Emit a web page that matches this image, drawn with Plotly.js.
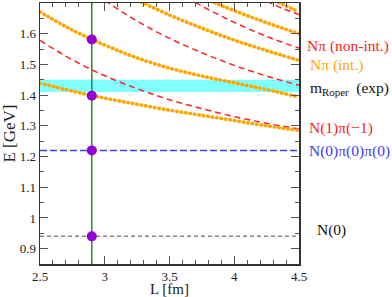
<!DOCTYPE html>
<html><head><meta charset="utf-8">
<script src="https://cdn.plot.ly/plotly-3.0.1.min.js"></script>
<style>
html,body{margin:0;padding:0;background:#fff}
#plot{width:392px;height:297px}
path.js-line[style*="rgb(255, 165, 0)"]{stroke-linecap:round !important}
</style>
</head><body><div id="plot"></div>
<script>
// Box size L [fm]
const L_grid = [2.5, 2.75, 3.0, 3.25, 3.5, 3.75, 4.0, 4.25, 4.5];
// non-interacting N pi levels (red dashed)
const freeN1 = [1.578, 1.515, 1.463, 1.421, 1.385, 1.356, 1.330, 1.308, 1.290];
const L_n2 = [3.0, 3.25, 3.5, 3.75, 4.0, 4.25, 4.5];
const freeN2 = [1.708, 1.641, 1.585, 1.538, 1.497, 1.462, 1.432];
const L_n3 = [3.5, 3.75, 4.0, 4.25, 4.5];
const freeN3 = [1.752, 1.690, 1.637, 1.591, 1.553];
const L_n4 = [4.25, 4.375, 4.5];
const freeN4 = [1.706, 1.682, 1.662];
// interacting N pi levels (orange dotted)
const intE1 = [1.439, 1.413, 1.390, 1.370, 1.351, 1.334, 1.317, 1.300, 1.285];
const intE2 = [1.671, 1.612, 1.563, 1.521, 1.488, 1.462, 1.440, 1.418, 1.394];
const L_i3 = [3.25, 3.5, 3.75, 4.0, 4.25, 4.5];
const intE3 = [1.710, 1.661, 1.618, 1.579, 1.545, 1.513];
const L_i4 = [3.75, 4.0, 4.25, 4.5];
const intE4 = [1.718, 1.675, 1.636, 1.600];
const L_i5 = [4.25, 4.375, 4.5];
const intE5 = [1.722, 1.696, 1.671];
// thresholds
const L_ends = [2.5, 4.5];
const eNpipi = 1.22;
const eN = 0.94;
const roperBand = [1.41, 1.45];
// lattice simulation
const L_sim = 2.9;
const latticeE = [0.94, 1.22, 1.398, 1.581];
const E_span = [0.85, 1.70];
// ticks
const xTickVals = [2.5, 3, 3.5, 4, 4.5];
const xTickText = ['2.5', '3', '3.5', '4', '4.5'];
const yTickVals = [0.9, 1.0, 1.1, 1.2, 1.3, 1.4, 1.5, 1.6];
const yTickText = ['0.9', '1', '1.1', '1.2', '1.3', '1.4', '1.5', '1.6'];

const RED = '#ff2222', ORANGE = '#ffa500', BLUE = '#3c3cff', GRAY = '#888888';

const redLine = {color: RED, width: 1.5, dash: '6px,4px', shape: 'spline'};
const orLine = {color: ORANGE, width: 3.6, dash: '0.5px,4px', shape: 'spline'};

const traces = [
  {x: L_grid, y: freeN1, mode: 'lines', line: redLine},
  {x: L_n2, y: freeN2, mode: 'lines', line: redLine},
  {x: L_n3, y: freeN3, mode: 'lines', line: redLine},
  {x: L_n4, y: freeN4, mode: 'lines', line: redLine},
  {x: L_ends, y: [eNpipi, eNpipi], mode: 'lines', line: {color: BLUE, width: 1.5, dash: '7px,3px'}},
  {x: L_ends, y: [eN, eN], mode: 'lines', line: {color: GRAY, width: 1.5, dash: '4px,3px'}},
  {x: L_grid, y: intE1, mode: 'lines', line: orLine},
  {x: L_grid, y: intE2, mode: 'lines', line: orLine},
  {x: L_i3, y: intE3, mode: 'lines', line: orLine},
  {x: L_i4, y: intE4, mode: 'lines', line: orLine},
  {x: L_i5, y: intE5, mode: 'lines', line: orLine},
  {x: [L_sim, L_sim], y: E_span, mode: 'lines', line: {color: '#2e8b2e', width: 1.5}},
  {x: latticeE.map(() => L_sim), y: latticeE, mode: 'markers', marker: {color: '#9400d3', size: 10}}
];

const F = "'Liberation Serif', serif";
const ann = (text, x, y, color, size) => ({text, x, y, xref: 'paper', yref: 'paper', xanchor: 'left', yanchor: 'middle', showarrow: false, font: {family: F, size: size || 15.5, color}});

const layout = {
  width: 392, height: 297,
  margin: {l: 40, r: 93, t: 3, b: 33},
  showlegend: false,
  paper_bgcolor: '#fff', plot_bgcolor: '#fff',
  font: {family: F, size: 13, color: '#222'},
  xaxis: {
    range: [2.5, 4.5], tickvals: xTickVals, ticktext: xTickText,
    ticks: 'inside', ticklen: 8, tickwidth: 1, tickcolor: '#555',
    minor: {dtick: 0.1, tick0: 2.5, ticks: 'inside', ticklen: 4, tickcolor: '#555', showgrid: false},
    showline: true, linecolor: '#333', linewidth: 1.5, mirror: 'allticks',
    showgrid: false, zeroline: false
  },
  yaxis: {
    range: E_span, tickvals: yTickVals, ticktext: yTickText,
    ticks: 'inside', ticklen: 8, tickwidth: 1, tickcolor: '#555',
    minor: {dtick: 0.05, tick0: 0.85, ticks: 'inside', ticklen: 4, tickcolor: '#555', showgrid: false},
    showline: true, linecolor: '#333', linewidth: 1.5, mirror: 'allticks',
    showgrid: false, zeroline: false,
    title: {text: 'E [GeV]', font: {family: F, size: 17, color: '#222'}, standoff: 2}
  },
  shapes: [{type: 'rect', xref: 'paper', x0: 0, x1: 1, yref: 'y', y0: roperBand[0], y1: roperBand[1], fillcolor: '#80ffff', line: {width: 0}, layer: 'below'}],
  annotations: [
    {text: 'L [fm]', x: 0.5, y: -0.097, xref: 'paper', yref: 'paper', xanchor: 'center', yanchor: 'middle', showarrow: false, font: {family: F, size: 15, color: '#222'}},
    ann('Nπ (non-int.)', 1.023, 0.835, RED),
    ann('Nπ (int.)', 1.035, 0.762, ORANGE),
    ann('m<sub>Roper</sub>  (exp)', 1.035, 0.672, '#111'),
    ann('N(1)π(−1)', 1.031, 0.521, RED),
    ann('N(0)π(0)π(0)', 1.031, 0.433, BLUE),
    ann('N(0)', 1.062, 0.130, '#111')
  ]
};

Plotly.newPlot('plot', traces, layout, {displayModeBar: false, staticPlot: true});
</script>
</body></html>
